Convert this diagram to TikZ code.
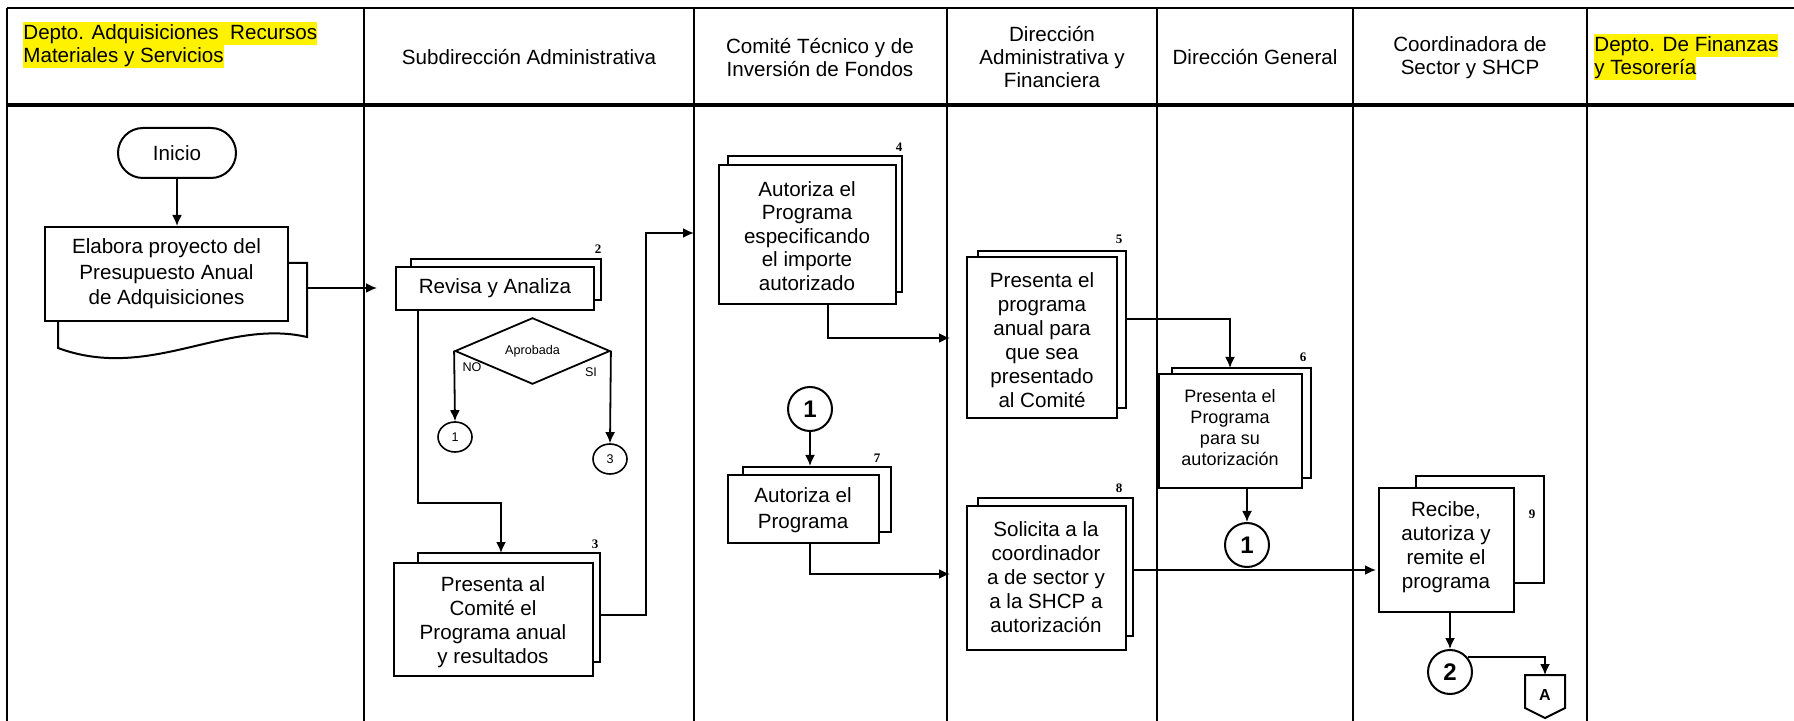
\documentclass[tikz,border=0pt]{standalone}
\usepackage{fontspec}
\setmainfont{Liberation Sans}
\newfontfamily\numfont{Liberation Serif}
\usetikzlibrary{arrows.meta,shapes.geometric,shapes.misc,fit}

\begin{document}
\begin{tikzpicture}[x=0.5pt,y=-0.5pt,
  lane/.style={line width=1.2pt},
  box/.style={draw,line width=1pt,fill=white,inner sep=0pt},
  txt/.style={align=center,font=\fontsize{10.3}{12}\selectfont,inner sep=0pt},
  conn/.style={line width=0.9pt},
  arr/.style={conn,-{Latex[length=5.5pt,width=5pt]}},
  stepnum/.style={font=\numfont\bfseries\fontsize{6.5}{7}\selectfont,inner sep=0pt},
  small/.style={font=\fontsize{6.3}{7}\selectfont,inner sep=0pt},
  hdr/.style={align=center,font=\fontsize{10.3}{11.5}\selectfont,inner sep=0pt},
  hl/.style={fill=yellow,font=\fontsize{10.3}{11.5}\selectfont,inner sep=0pt,
             text height=8.6pt,text depth=2.9pt,anchor=west},
  conbig/.style={circle,draw,line width=1pt,minimum size=22pt,inner sep=0pt,
                 font=\bfseries\fontsize{12}{14}\selectfont},
  consmall/.style={ellipse,draw,line width=0.8pt,minimum width=17pt,minimum height=15pt,
                   inner sep=0pt,font=\fontsize{6.3}{7}\selectfont},
]
\useasboundingbox[fill=white] (0,0) rectangle (1794,721);

% ---------- swimlane grid ----------
\draw[lane] (7,8) -- (1794,8);
\draw[line width=1.8pt] (7,105) -- (1794,105);
\foreach \x in {7,364,694,947,1157,1353,1587} \draw[lane] (\x,8) -- (\x,721);

% ---------- lane headers ----------
\node[hl] (h1a) at (23,34) {Depto. Adquisiciones\ \ Recursos};
\node[hl] (h1b) at (23,57) {Materiales y Servicios};
\node[hdr] (h2) at (529,57) {Subdirección Administrativa};
\node[hdr] (h3) at (820,58) {Comité Técnico y de\\Inversión de Fondos};
\node[hdr] (h4) at (1052,57) {Dirección\\Administrativa y\\Financiera};
\node[hdr] (h5) at (1255,57) {Dirección General};
\node[hdr] (h6) at (1470,58) {Coordinadora de\\Sector y SHCP};
\node[hl] (h7a) at (1594,46) {Depto. De Finanzas};
\node[hl] (h7b) at (1594,69) {y Tesorería};

% ---------- lane 1 ----------
\node[rounded rectangle,draw,line width=1pt,minimum width=59pt,minimum height=25pt,
      inner sep=0pt,font=\fontsize{10.3}{12}\selectfont] (ini) at (177,153) {Inicio};
% stacked-document outline behind step 1
\draw[line width=1pt,fill=white] (288,263) -- (307,263) -- (307,337)
      .. controls (225,318) and (150,382) .. (58,348) -- (58,321);
\node[box,fit={(45,227) (288,321)}] (b1) {};
\node[txt,font=\fontsize{10.3}{12.8}\selectfont] (t1) at (b1.center) {Elabora proyecto del\\Presupuesto Anual\\de Adquisiciones};
\draw[arr] (ini.south) -- (b1.north -| ini.south);
\coordinate (e1) at (307,288);
\coordinate (e1end) at (377,288);
\draw[arr] (e1) -- (e1end);

% ---------- lane 2 ----------
\node[box,fit={(411,259) (601,300)}] (b2b) {};
\node[box,fit={(396,267) (594,310)}] (b2) {};
\node[txt] (t2) at (b2.center) {Revisa y Analiza};
\node[stepnum] (n2) at (598,249) {2};

\node[diamond,draw,line width=0.9pt,minimum width=77.5pt,minimum height=27pt,
      inner sep=0pt,small] (d) at (532.5,351) {Aprobada};
\node[small] (no) at (472,367) {NO};
\node[small] (si) at (591,372) {SI};
\node[consmall] (c1s) at (455,437) {1};
\node[consmall] (c3s) at (610,459) {3};
\draw[arr] (d.west) -- (c1s.north);
\draw[arr] (d.east) -- (c3s.north);

\node[box,fit={(418,553) (600,662)}] (b3b) {};
\node[box,fit={(394,563) (593,676)}] (b3) {};
\node[txt] (t3) at (493,622) {Presenta al\\Comité el\\Programa anual\\y resultados};
\node[stepnum] (n3) at (595,544) {3};

\draw[arr] ([xshift=11.5pt]b2.south west) |- (501,503) -- (501,553);
\coordinate (e3) at (600,615);
\coordinate (e3end) at (694,233);
\draw[arr] (e3) -| (646,233) -- (e3end);

% ---------- lane 3 ----------
\node[box,fit={(728,156) (902,292)}] (b4b) {};
\node[box,fit={(719,165) (896,304)}] (b4) {};
\node[txt,font=\fontsize{10.3}{11.7}\selectfont] (t4) at (807,236) {Autoriza el\\Programa\\especificando\\el importe\\autorizado};
\node[stepnum] (n4) at (899,147) {4};
\coordinate (e4) at (828,304);
\coordinate (e4end) at (950,338);
\draw[arr] (e4) |- (e4end);

\node[conbig] (k1) at (810,409) {1};
\node[box,fit={(743,467) (891,532)}] (b7b) {};
\node[box,fit={(728,475) (879,543)}] (b7) {};
\node[txt,font=\fontsize{10.3}{12.8}\selectfont] (t7) at (803,510) {Autoriza el\\Programa};
\node[stepnum] (n7) at (877,458) {7};
\draw[arr] (k1.south) -- (k1.south |- b7b.north);
\coordinate (e7) at (810,543);
\coordinate (e7end) at (950,574);
\draw[arr] (e7) |- (e7end);

% ---------- lane 4 ----------
\node[box,fit={(978,251) (1126,408)}] (b5b) {};
\node[box,fit={(967,257) (1117,418)}] (b5) {};
\node[txt] (t5) at (1042,340) {Presenta el\\programa\\anual para\\que sea\\presentado\\al Comité};
\node[stepnum] (n5) at (1119,239) {5};

\node[box,fit={(978,498) (1133,636)}] (b8b) {};
\node[box,fit={(967,506) (1126,650)}] (b8) {};
\node[txt] (t8) at (1046,577) {Solicita a la\\coordinador\\a de sector y\\a la SHCP a\\autorización};
\node[stepnum] (n8) at (1119,488) {8};

% ---------- lane 5 ----------
\node[box,fit={(1172,368) (1311,478)}] (b6b) {};
\node[box,fit={(1159,374) (1302,488)}] (b6) {};
\node[txt,font=\fontsize{9}{10.5}\selectfont] (t6) at (1230,428) {Presenta el\\Programa\\para su\\autorización};
\node[stepnum] (n6) at (1303,357) {6};
\draw[arr] (1126,319) -| (1230,368);
\node[conbig] (k2) at (1247,545) {1};
\draw[arr] (k2.north |- b6.south) -- (k2.north);

% ---------- lane 6 ----------
\node[box,fit={(1416,476) (1544,583)}] (b9b) {};
\node[box,fit={(1379,488) (1514,612)}] (b9) {};
\node[txt] (t9) at (1446,547) {Recibe,\\autoriza y\\remite el\\programa};
\node[stepnum] (n9) at (1532,514) {9};
\draw[arr] (1133,570) -- (1376,570);

\node[conbig] (k3) at (1450,672) {2};
\draw[arr] (k3.north |- b9.south) -- (k3.north);

\draw[line width=1pt,fill=white] (1525,675) -- (1565,675) -- (1565,708)
      -- (1545,718) -- (1525,708) -- cycle;
\node[inner sep=0pt,font=\bfseries\fontsize{8}{9}\selectfont] (offA) at (1545,695) {A};
\draw[arr] (k3.40) -| (1545,675);
\end{tikzpicture}
\end{document}
